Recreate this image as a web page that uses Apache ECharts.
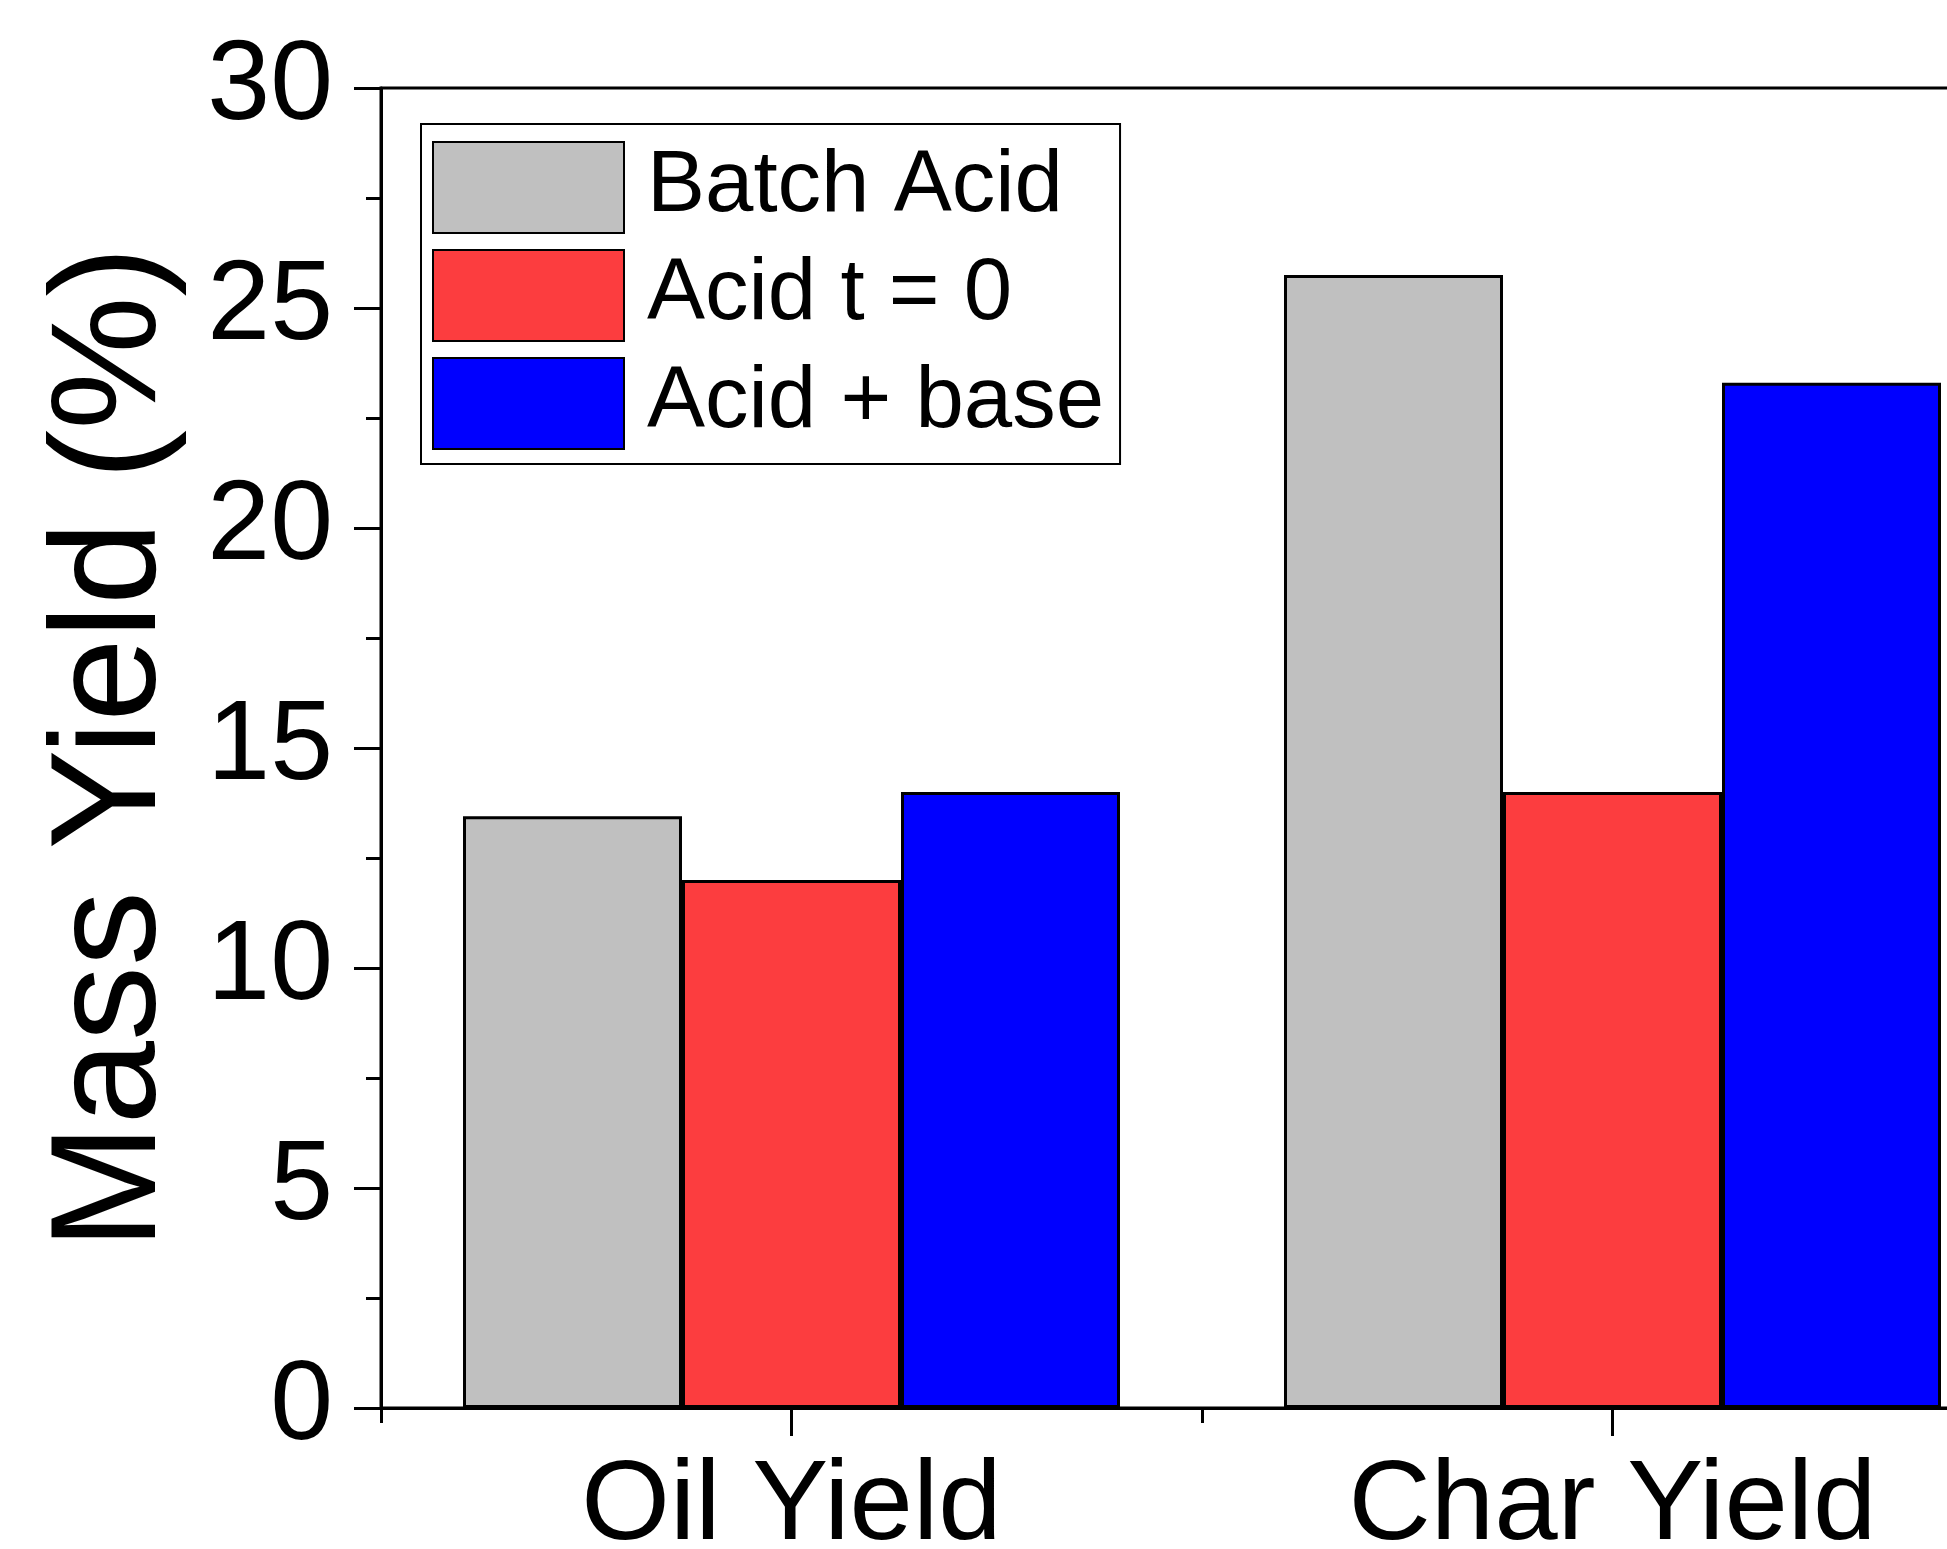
<!DOCTYPE html>
<html>
<head>
<meta charset="utf-8">
<script src="https://cdn.jsdelivr.net/npm/echarts@6/dist/echarts.min.js"></script>
<style>html,body{margin:0;padding:0;background:#fff;overflow:hidden}#c{width:1947px;height:1549px}</style>
</head>
<body>
<div id="c"></div>
<script>
var categories = ['Oil Yield', 'Char Yield'];
var seriesNames = ['Batch Acid', 'Acid t = 0', 'Acid + base'];
var batchAcid = [13.45, 25.75];
var acidT0 = [12.0, 14.0];
var acidBase = [14.0, 23.3];
var yTicks = [0, 5, 10, 15, 20, 25, 30];
var colors = ['#C0C0C0', '#FC3D3F', '#0000FF'];

var FONT = 'Liberation Sans, Arial, sans-serif';
var chart = echarts.init(document.getElementById('c'));
var dataSets = [batchAcid, acidT0, acidBase];

chart.setOption({
  backgroundColor: '#fff',
  animation: false,
  grid: {
    left: 381, top: 88, width: 1642, height: 1320,
    outerBoundsMode: 'none', containLabel: false,
    show: true, borderColor: '#000', borderWidth: 3, backgroundColor: 'transparent'
  },
  legend: {
    left: 421, top: 124, orient: 'vertical',
    itemWidth: 191, itemHeight: 91, itemGap: 13,
    padding: [16, 16, 13, 11],
    backgroundColor: '#fff', borderColor: '#000', borderWidth: 2,
    icon: 'rect',
    textStyle: { fontSize: 87, lineHeight: 91, color: '#000', fontFamily: FONT, padding: [4, 0, 0, 18] },
    data: seriesNames
  },
  xAxis: [{
    type: 'category', data: categories, position: 'bottom', boundaryGap: true,
    axisLine: { show: true, lineStyle: { color: '#000', width: 3 } },
    axisTick: { show: true, alignWithLabel: false, length: 15, lineStyle: { color: '#000', width: 3 } },
    axisLabel: { fontSize: 114, color: '#000', fontFamily: FONT, margin: 43 },
    splitLine: { show: false }
  }, {
    type: 'category', data: categories, position: 'bottom', boundaryGap: true,
    axisLine: { show: false },
    axisTick: { show: true, alignWithLabel: true, length: 28, lineStyle: { color: '#000', width: 3 } },
    axisLabel: { show: false },
    splitLine: { show: false }
  }],
  yAxis: {
    type: 'value', min: yTicks[0], max: yTicks[yTicks.length - 1], interval: 5,
    name: 'Mass Yield (%)', nameLocation: 'middle', nameGap: 192,
    nameTextStyle: { fontSize: 150, color: '#000', fontFamily: FONT },
    axisLine: { show: true, lineStyle: { color: '#000', width: 3 } },
    axisTick: { show: true, length: 27, lineStyle: { color: '#000', width: 3 } },
    minorTick: { show: true, splitNumber: 2, length: 15, lineStyle: { color: '#000', width: 3 } },
    axisLabel: { fontSize: 113, color: '#000', fontFamily: FONT, margin: 48 },
    splitLine: { show: false }
  },
  series: seriesNames.map(function (n, i) {
    return {
      name: n, type: 'bar', xAxisIndex: 0, data: dataSets[i],
      barWidth: 219, barGap: '0%',
      itemStyle: { color: colors[i], borderColor: '#000', borderWidth: 3 }
    };
  })
});
</script>
</body>
</html>
